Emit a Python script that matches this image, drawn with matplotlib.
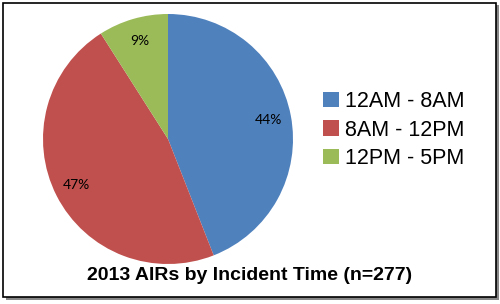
import matplotlib.pyplot as plt
from matplotlib.patches import Rectangle, Patch

plt.rcParams['font.family'] = ['Liberation Sans', 'DejaVu Sans']

# ========== data ==========
labels = ["12AM - 8AM", "8AM - 12PM", "12PM - 5PM"]
counts = [122, 130, 25]
colors = ["#4F81BD", "#C0504D", "#9BBB59"]
title = "2013 AIRs by Incident Time (n=277)"

fig = plt.figure(figsize=(5, 3.04), dpi=100)

# frame with shadow
fig.patches.append(Rectangle((0.012, 0.012), 0.985, 0.97, transform=fig.transFigure,
                             facecolor="#888888", edgecolor="none", zorder=-3))
fig.patches.append(Rectangle((0.006, 0.024), 0.985, 0.966, transform=fig.transFigure,
                             facecolor="white", edgecolor="black", linewidth=1.2, zorder=-2))

# pie: center ~ (168,140) px, radius ~125 px
ax = fig.add_axes([(168 - 125) / 500, (304 - 139 - 125) / 304, 250 / 500, 250 / 304])
wedges, texts, autotexts = ax.pie(counts, colors=colors, startangle=90, counterclock=False,
                                  autopct=lambda p: "%d%%" % round(p), pctdistance=0.82,
                                  textprops={"fontsize": 10, "family": ["Lato", "DejaVu Sans"]})
ax.set_xlim(-1, 1)
ax.set_ylim(-1, 1)
ax.set_aspect("equal")

handles = [Patch(facecolor=c, edgecolor="none") for c in colors]
fig.legend(handles, labels, loc="center left", bbox_to_anchor=(314 / 500, 1 - 130 / 304),
           frameon=False, fontsize=15.5, handlelength=0.75, handleheight=0.75,
           handletextpad=0.3, labelspacing=0.35, borderaxespad=0)

fig.text(250 / 500, 1 - 275 / 304, title, ha="center", va="center",
         fontsize=14, fontweight="bold")

plt.savefig("out.png", dpi=100)
